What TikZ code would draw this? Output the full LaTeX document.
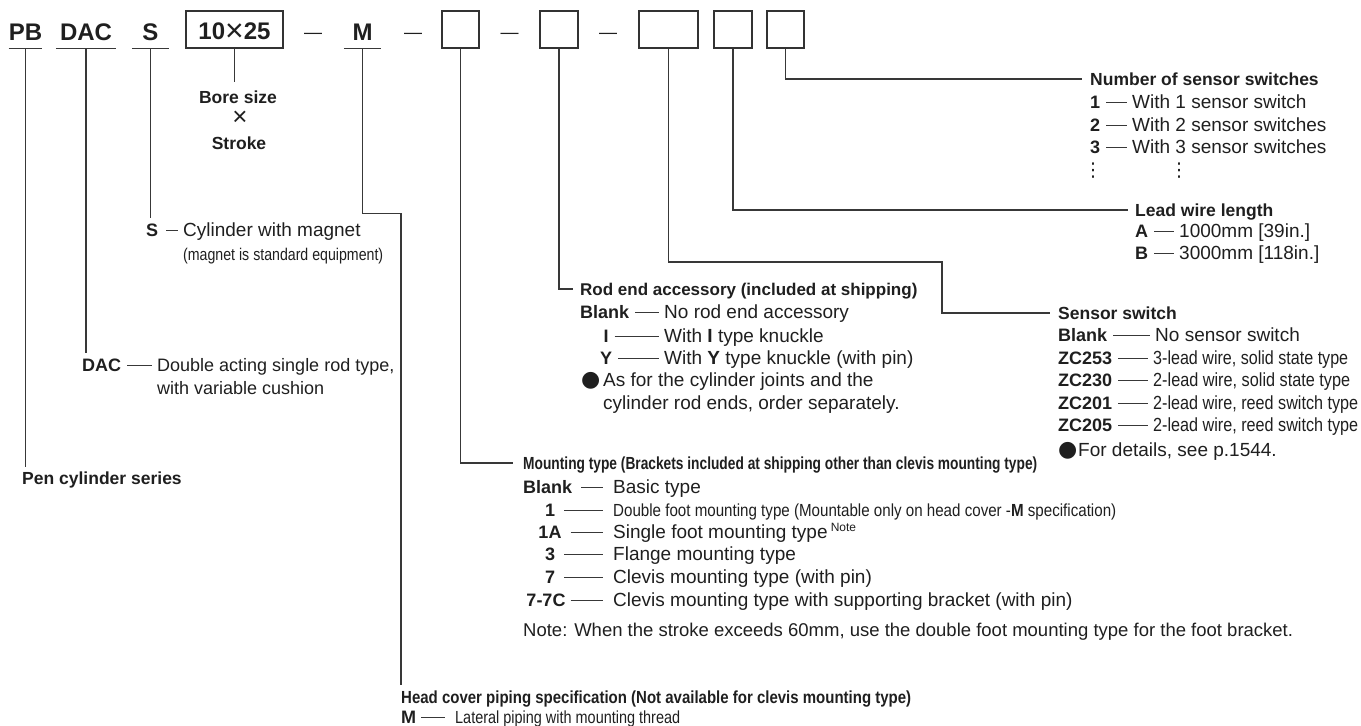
\documentclass[tikz,border=0pt]{standalone}
\usepackage{fontspec}
\setmainfont{Liberation Sans}
\newfontfamily\dejavu{DejaVu Sans}
\usepackage{graphicx}
\usepackage{xcolor}
\usepackage{tikz}
\usetikzlibrary{calc}

\newcommand{\fsz}[1]{\fontsize{#1}{#1}\selectfont}
\newcommand{\squeeze}[2]{\resizebox{#1}{\height}{#2}}

\begin{document}
\begin{tikzpicture}[x=1pt, y=-1pt, every node/.style={text=black!88}]
        % Define styles for the code parts, the labels and the leader lines
        \tikzstyle{part} = [inner sep=0pt, minimum height=33pt, text height=17pt, text depth=0pt, font=\fsz{24}\bfseries]
        \tikzstyle{slot} = [part, draw=black!80, line width=1.3pt, minimum height=37pt]
        \tikzstyle{desc} = [anchor=west, inner sep=0pt, text height=13pt, text depth=0pt, font=\fsz{19}]
        \tikzstyle{code} = [desc, font=\fsz{18}\bfseries]
        \tikzstyle{heading} = [desc, font=\fsz{17.5}\bfseries]
        \tikzstyle{wire} = [line width=1.2pt, draw=black!78]
        \tikzstyle{codedash} = [line width=1pt, draw=black!78, shorten <=6pt, shorten >=5pt]

        \useasboundingbox (0,0) rectangle (1361,726);

        % Model code in one row
        \node (pb) [part, minimum width=29pt] at (25.5,31.5) {PB};
        \node (dac) [part, minimum width=60pt] at (86,31.5) {DAC};
        \node (sm) [part, minimum width=37pt] at (150.5,31.5) {S};
        \node (size) [slot, minimum width=97pt] at (234.5,29.5) {\raisebox{-1.5pt}{10\raisebox{-2pt}{\fsz{32}\mdseries ×}25}};
        \node (dash1) [part, font=\fsz{18}] at (313,30) {—};
        \node (mm) [part, minimum width=37pt] at (362.5,31.5) {M};
        \node (dash2) [part, font=\fsz{18}] at (413,30) {—};
        \node (box1) [slot, minimum width=37pt] at (460.5,29.5) {};
        \node (dash3) [part, font=\fsz{18}] at (509.5,30) {—};
        \node (box2) [slot, minimum width=38pt] at (559,29.5) {};
        \node (dash4) [part, font=\fsz{18}] at (608,30) {—};
        \node (box3) [slot, minimum width=59pt] at (668.5,29.5) {};
        \node (box4) [slot, minimum width=38pt] at (733,29.5) {};
        \node (box5) [slot, minimum width=37pt] at (785.5,29.5) {};
        \foreach \n in {pb, dac, sm, mm}
            \draw [wire] (\n.south west) -- (\n.south east);

        % Bore size x stroke
        \node (bore) [heading, anchor=center] at (238,97) {Bore size};
        \node (times) [desc, anchor=center, font=\fsz{26}] at (240,119) {×};
        \node (stroke) [heading, anchor=center] at (239,143) {Stroke};
        \draw [wire, shorten >=8pt] (size.south) -- (size.south |- bore.north);

        % Number of sensor switches
        \node (nss) [heading] at (1090,79) {Number of sensor switches};
        \node (n1) [code] at (1090,102) {1};
        \node (n1d) [desc] at (1132,102) {With 1 sensor switch};
        \node (n2) [code] at (1090,125) {2};
        \node (n2d) [desc] at (1132,125) {With 2 sensor switches};
        \node (n3) [code] at (1090,147) {3};
        \node (n3d) [desc] at (1132,147) {With 3 sensor switches};
        \node (ndots) [anchor=center, inner sep=0pt, font=\fsz{19}\dejavu] at (1093,171) {⋮};
        \node (ndotsd) [anchor=center, inner sep=0pt, font=\fsz{19}\dejavu] at (1179,171) {⋮};
        \draw [wire, shorten >=8pt] (box5.south) |- (nss.west);

        % Lead wire length
        \node (lwl) [heading] at (1135,210) {Lead wire length};
        \node (la) [code] at (1135,231) {A};
        \node (lad) [desc] at (1179,231) {1000mm [39in.]};
        \node (lb) [code] at (1135,253) {B};
        \node (lbd) [desc] at (1179,253) {3000mm [118in.]};
        \draw [wire, shorten >=7pt] (box4.south) |- (lwl.west);

        % Sensor switch
        \coordinate (sbend) at (942,262);
        \node (ssw) [heading] at (1058,313) {Sensor switch};
        \node (sblank) [code] at (1058,335) {Blank};
        \node (sblankd) [desc] at (1155,335) {No sensor switch};
        \node (s253) [code] at (1058,358) {ZC253};
        \node (s253d) [desc] at (1153,358) {\squeeze{195pt}{3-lead wire, solid state type}};
        \node (s230) [code] at (1058,380) {ZC230};
        \node (s230d) [desc] at (1153,380) {\squeeze{197pt}{2-lead wire, solid state type}};
        \node (s201) [code] at (1058,403) {ZC201};
        \node (s201d) [desc] at (1153,403) {\squeeze{205pt}{2-lead wire, reed switch type}};
        \node (s205) [code] at (1058,425) {ZC205};
        \node (s205d) [desc] at (1153,425) {\squeeze{205pt}{2-lead wire, reed switch type}};
        \node (sdot) [desc, font=\fsz{22}\dejavu] at (1058,450) {●};
        \node (sdet) [desc] at (1078,450) {For details, see p.1544.};
        \draw [wire, shorten >=8pt] (box3.south) |- (sbend) |- (ssw.west);

        % Rod end accessory
        \node (rea) [heading, font=\fsz{17}\bfseries] at (580,289) {Rod end accessory (included at shipping)};
        \node (rblank) [code] at (580,312) {Blank};
        \node (rblankd) [desc] at (664,312) {No rod end accessory};
        \node (ri) [code, anchor=center] at (606,336) {I};
        \node (rid) [desc] at (664,336) {With \textbf{I} type knuckle};
        \node (ry) [code, anchor=center] at (606,358) {Y};
        \node (ryd) [desc] at (664,358) {With \textbf{Y} type knuckle (with pin)};
        \node (rdot) [desc, font=\fsz{22}\dejavu] at (581,380) {●};
        \node (rnote) [desc] at (603,380) {As for the cylinder joints and the};
        \node (rnote2) [desc] at (603,403) {cylinder rod ends, order separately.};
        \draw [wire, shorten >=7pt] (box2.south) |- (rea.west);

        % Cylinder with magnet
        \node (sc) [code] at (146,230) {S};
        \node (scd) [desc] at (183,230) {Cylinder with magnet};
        \node (scd2) [desc, font=\fsz{17}] at (183,254) {\squeeze{200pt}{(magnet is standard equipment)}};
        \draw [wire, shorten >=5pt] (sm.south) -- (sm.south |- sc.north);

        % Double acting
        \node (dacc) [code] at (82,365) {DAC};
        \node (dacd) [desc, font=\fsz{18}] at (157,365) {Double acting single rod type,};
        \node (dacd2) [desc, font=\fsz{18}] at (157,388) {with variable cushion};
        \draw [wire, shorten >=5pt] (dac.south) -- (dac.south |- dacc.north);

        % Series
        \node (pen) [heading] at (22,478) {Pen cylinder series};
        \draw [wire, shorten >=4pt] (pb.south) -- (pb.south |- pen.north);

        % Mounting type
        \node (mt) [heading] at (523,463) {\squeeze{514pt}{Mounting type (Brackets included at shipping other than clevis mounting type)}};
        \node (mblank) [code] at (523,487) {Blank};
        \node (mblankd) [desc] at (613,487) {Basic type};
        \node (m1) [code, anchor=center] at (550,510) {1};
        \node (m1d) [desc, font=\fsz{17.5}] at (613,510) {\squeeze{503pt}{Double foot mounting type (Mountable only on head cover -\textbf{M} specification)}};
        \node (m1a) [code, anchor=center] at (550,532) {1A};
        \node (m1ad) [desc] at (613,532) {Single foot mounting type\,\raisebox{7pt}{\fsz{12}Note}};
        \node (m3) [code, anchor=center] at (550,554) {3};
        \node (m3d) [desc] at (613,554) {Flange mounting type};
        \node (m7) [code, anchor=center] at (550,577) {7};
        \node (m7d) [desc] at (613,577) {Clevis mounting type (with pin)};
        \node (m7c) [code, anchor=center] at (546,600) {7-7C};
        \node (m7cd) [desc] at (613,600) {Clevis mounting type with supporting bracket (with pin)};
        \node (mnote) [desc, font=\fsz{18.5}] at (523,630) {Note: When the stroke exceeds 60mm, use the double foot mounting type for the foot bracket.};
        \draw [wire, shorten >=10pt] (box1.south) |- (mt.west);

        % Head cover piping
        \node (hc) [heading] at (401,697) {\squeeze{510pt}{Head cover piping specification (Not available for clevis mounting type)}};
        \node (hm) [code] at (401,717) {M};
        \node (hmd) [desc, font=\fsz{17.5}] at (455,717) {\squeeze{225pt}{Lateral piping with mounting thread}};
        \draw [wire, shorten >=5pt] (mm.south) -- ++(0,165) -| (hc.north west);

        % Dashes between codes and texts
        \draw [codedash] (n1) -- (n1d);
        \draw [codedash] (n2) -- (n2d);
        \draw [codedash] (n3) -- (n3d);
        \draw [codedash] (la) -- (lad);
        \draw [codedash] (lb) -- (lbd);
        \draw [codedash] (sblank) -- (sblankd);
        \draw [codedash] (s253) -- (s253d);
        \draw [codedash] (s230) -- (s230d);
        \draw [codedash] (s201) -- (s201d);
        \draw [codedash] (s205) -- (s205d);
        \draw [codedash] (rblank) -- (rblankd);
        \draw [codedash] (ri) -- (rid);
        \draw [codedash] (ry) -- (ryd);
        \draw [codedash, shorten <=8pt] (sc) -- (scd);
        \draw [codedash] (dacc) -- (dacd);
        \draw [codedash, shorten <=9pt, shorten >=10pt] (mblank) -- (mblankd);
        \draw [codedash, shorten <=9pt, shorten >=10pt] (m1) -- (m1d);
        \draw [codedash, shorten <=9pt, shorten >=10pt] (m1a) -- (m1ad);
        \draw [codedash, shorten <=9pt, shorten >=10pt] (m3) -- (m3d);
        \draw [codedash, shorten <=9pt, shorten >=10pt] (m7) -- (m7d);
        \draw [codedash, shorten <=5pt, shorten >=10pt] (m7c) -- (m7cd);
        \draw [codedash, shorten <=5pt, shorten >=10pt] (hm) -- (hmd);
    \end{tikzpicture}
\end{document}
